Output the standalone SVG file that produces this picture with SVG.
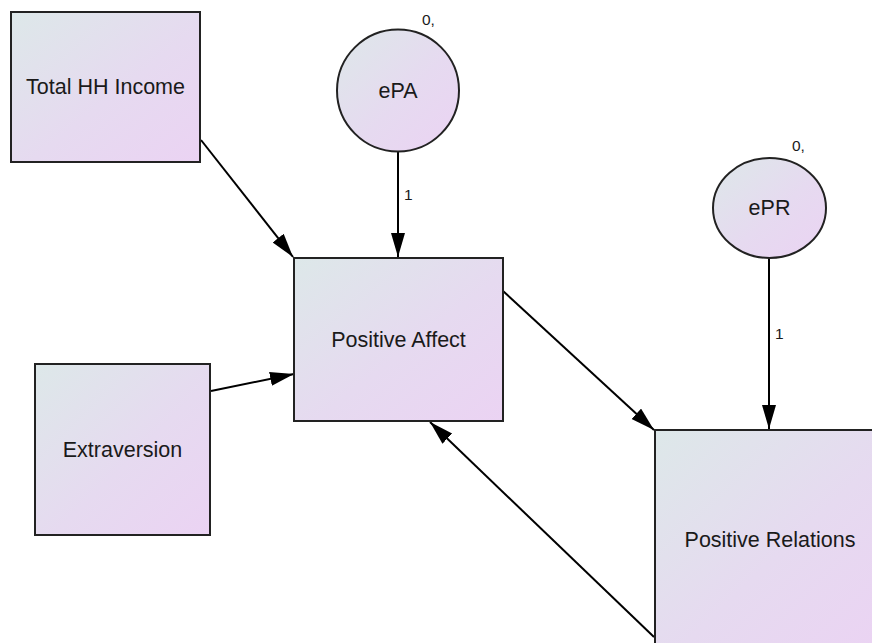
<svg xmlns="http://www.w3.org/2000/svg" width="872" height="643" viewBox="0 0 872 643">
  <defs>
    <linearGradient id="fill" x1="0" y1="0" x2="1" y2="1">
      <stop offset="0" stop-color="#dde8e9"/>
      <stop offset="0.55" stop-color="#e6daf0"/>
      <stop offset="1" stop-color="#ebd3f3"/>
    </linearGradient>
    <marker id="arrow" markerUnits="userSpaceOnUse" markerWidth="26" markerHeight="16" refX="24" refY="7" orient="auto">
      <path d="M0,0 L24,7 L0,14 z" fill="#000"/>
    </marker>
    <style>
      .box { fill: url(#fill); stroke: #222; stroke-width: 2; }
      .lbl { font-family: "Liberation Sans", Arial, sans-serif; font-size: 21.5px; fill: #1a1a1a; text-anchor: middle; }
      .small { font-family: "Liberation Sans", Arial, sans-serif; font-size: 15.5px; fill: #1a1a1a; }
      .edge { stroke: #000; stroke-width: 2; fill: none; marker-end: url(#arrow); }
    </style>
  </defs>
  <rect width="872" height="643" fill="#fff"/>

  <g id="connectors">
    <line class="edge" x1="201" y1="140" x2="293" y2="257"/>
    <line class="edge" x1="211" y1="391" x2="294" y2="374"/>
    <line class="edge" x1="398" y1="152" x2="398" y2="257"/>
    <line class="edge" x1="503" y1="291" x2="654" y2="430"/>
    <line class="edge" x1="769" y1="258" x2="769" y2="429"/>
    <line class="edge" x1="654" y1="637" x2="430" y2="422"/>
  </g>

  <g id="total-hh-income">
    <rect class="box" x="11" y="12" width="189" height="150"/>
    <text class="lbl" x="105.5" y="94">Total HH Income</text>
  </g>

  <g id="extraversion">
    <rect class="box" x="35" y="364" width="175" height="171"/>
    <text class="lbl" x="122.5" y="457">Extraversion</text>
  </g>

  <g id="positive-affect">
    <rect class="box" x="294" y="258" width="209" height="163"/>
    <text class="lbl" x="398.5" y="347">Positive Affect</text>
  </g>

  <g id="positive-relations">
    <rect class="box" x="655" y="430" width="232" height="220"/>
    <text class="lbl" x="770" y="547">Positive Relations</text>
  </g>

  <g id="ePA">
    <circle class="box" cx="398" cy="90.5" r="61"/>
    <text class="lbl" x="398" y="98">ePA</text>
    <text class="small" x="422" y="25">0,</text>
    <text class="small" x="404" y="200">1</text>
  </g>

  <g id="ePR">
    <ellipse class="box" cx="769.5" cy="208" rx="56.5" ry="50"/>
    <text class="lbl" x="769.5" y="215">ePR</text>
    <text class="small" x="792" y="151">0,</text>
    <text class="small" x="775" y="339">1</text>
  </g>
</svg>
